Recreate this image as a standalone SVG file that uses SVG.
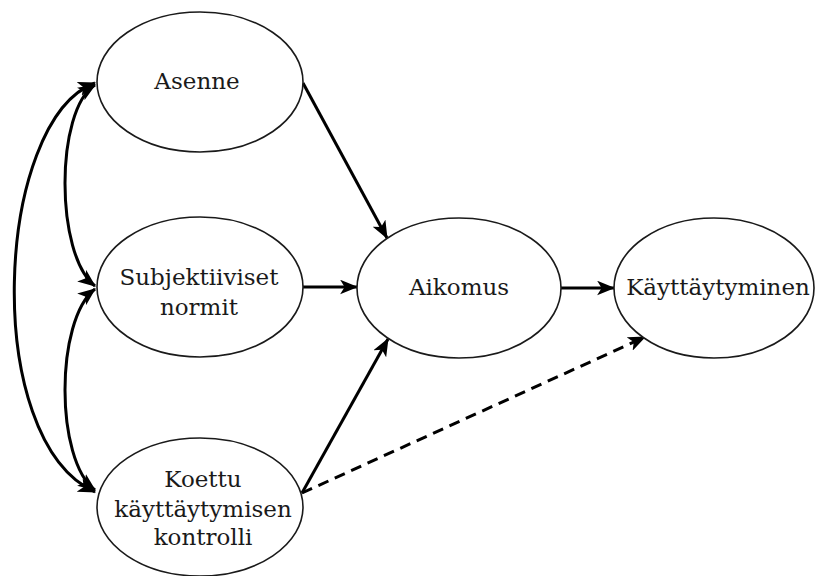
<svg xmlns="http://www.w3.org/2000/svg" width="817" height="576" viewBox="0 0 817 576">
  <style>
    .node ellipse { fill: #fff; stroke: #1a1a1a; stroke-width: 1.6; }
    .node text { font-family: "DejaVu Serif", "Liberation Serif", serif; font-size: 23px; fill: #1a1a1a; text-anchor: middle; }
    .edge { fill: none; stroke: #000; stroke-width: 3; }
    .dashed { stroke-dasharray: 11 7; }
  </style>
  <defs>
    <marker id="arrowBig" viewBox="0 0 16 13" refX="15" refY="6.5" markerWidth="18" markerHeight="15" markerUnits="userSpaceOnUse" orient="auto-start-reverse">
      <path d="M0,0 L16,6.5 L0,13 L4,6.5 Z" fill="#000"/>
    </marker>
  </defs>

  <g id="connectors">
    <!-- correlations between the three predictors -->
    <path class="edge" d="M95,83 C-5,120 -20,440 95,492" marker-start="url(#arrowBig)" marker-end="url(#arrowBig)"/>
    <path class="edge" d="M95,85 C55,110 55,255 95,286" marker-start="url(#arrowBig)" marker-end="url(#arrowBig)"/>
    <path class="edge" d="M95,289 C55,320 55,460 95,490" marker-start="url(#arrowBig)" marker-end="url(#arrowBig)"/>
    <!-- predictors to intention -->
    <path class="edge" d="M303,83 L387,238" marker-end="url(#arrowBig)"/>
    <path class="edge" d="M303,287 L357,287" marker-end="url(#arrowBig)"/>
    <path class="edge" d="M302,493 L388,339" marker-end="url(#arrowBig)"/>
    <!-- intention to behaviour -->
    <path class="edge" d="M561,288 L614,288" marker-end="url(#arrowBig)"/>
    <!-- direct path from perceived control to behaviour -->
    <path class="edge dashed" d="M302,493 L645,337" marker-end="url(#arrowBig)"/>
  </g>

  <g id="asenne" class="node">
    <ellipse cx="200" cy="82" rx="103" ry="70"/>
    <text x="197" y="89">Asenne</text>
  </g>
  <g id="subjektiiviset-normit" class="node">
    <ellipse cx="200" cy="287" rx="103" ry="70"/>
    <text x="199" y="285">Subjektiiviset</text>
    <text x="199" y="315">normit</text>
  </g>
  <g id="koettu-kontrolli" class="node">
    <ellipse cx="200" cy="507" rx="103" ry="69"/>
    <text x="203" y="487">Koettu</text>
    <text x="203" y="517">käyttäytymisen</text>
    <text x="203" y="545">kontrolli</text>
  </g>
  <g id="aikomus" class="node">
    <ellipse cx="459" cy="288" rx="102" ry="70"/>
    <text x="459" y="295">Aikomus</text>
  </g>
  <g id="kayttaytyminen" class="node">
    <ellipse cx="714" cy="288" rx="100" ry="70"/>
    <text x="718" y="295">Käyttäytyminen</text>
  </g>
</svg>
